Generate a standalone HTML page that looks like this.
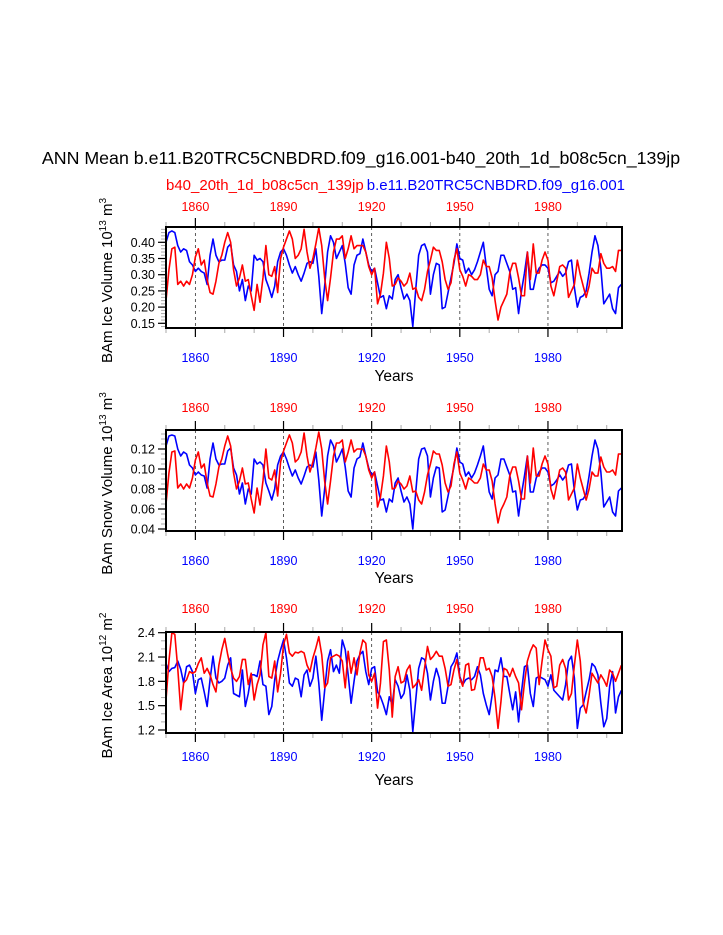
<!DOCTYPE html>
<html><head><meta charset="utf-8"><style>
html,body{margin:0;padding:0;background:#fff;}
svg{display:block;font-family:"Liberation Sans",Arial,sans-serif;}
</style></head><body>
<svg id="chart" width="723" height="935" viewBox="0 0 723 935" xmlns="http://www.w3.org/2000/svg">
<text x="361" y="164" font-size="17.8" text-anchor="middle">ANN Mean b.e11.B20TRC5CNBDRD.f09_g16.001-b40_20th_1d_b08c5cn_139jp</text>
<text x="166" y="190" font-size="15" fill="#f00">b40_20th_1d_b08c5cn_139jp</text>
<text x="625" y="190" font-size="15" fill="#00f" text-anchor="end">b.e11.B20TRC5CNBDRD.f09_g16.001</text>
<g id="plots"></g>
</svg>
<script>
const years = Array.from({length:156},(_, i)=>1850+i);
const xTicks = [1860,1890,1920,1950,1980];
const iceVolBlue = [0.40,0.43,0.435,0.43,0.39,0.37,0.38,0.375,0.34,0.33,0.31,0.32,0.31,0.305,0.27,0.36,0.41,0.36,0.34,0.345,0.345,0.385,0.395,0.33,0.31,0.25,0.285,0.22,0.265,0.25,0.36,0.345,0.35,0.34,0.285,0.26,0.23,0.265,0.34,0.37,0.38,0.36,0.33,0.305,0.325,0.30,0.28,0.305,0.335,0.34,0.335,0.38,0.295,0.18,0.265,0.37,0.42,0.40,0.35,0.37,0.39,0.335,0.26,0.24,0.33,0.36,0.365,0.41,0.37,0.33,0.31,0.32,0.275,0.23,0.235,0.195,0.235,0.225,0.285,0.30,0.26,0.225,0.24,0.22,0.14,0.255,0.36,0.39,0.395,0.37,0.24,0.30,0.335,0.33,0.195,0.20,0.245,0.29,0.335,0.395,0.35,0.345,0.305,0.32,0.30,0.315,0.34,0.37,0.40,0.325,0.255,0.235,0.30,0.31,0.36,0.36,0.335,0.31,0.255,0.26,0.18,0.25,0.305,0.37,0.255,0.255,0.30,0.32,0.33,0.33,0.32,0.275,0.28,0.295,0.31,0.295,0.305,0.34,0.345,0.26,0.20,0.23,0.235,0.25,0.305,0.37,0.42,0.39,0.32,0.21,0.225,0.24,0.195,0.18,0.26,0.27];
const iceVolRed = [0.22,0.315,0.38,0.385,0.27,0.28,0.265,0.28,0.27,0.30,0.355,0.38,0.33,0.345,0.285,0.245,0.24,0.28,0.335,0.36,0.40,0.43,0.40,0.315,0.265,0.29,0.33,0.28,0.285,0.235,0.19,0.27,0.215,0.29,0.39,0.30,0.295,0.325,0.245,0.35,0.385,0.41,0.435,0.41,0.35,0.36,0.38,0.44,0.37,0.32,0.35,0.395,0.445,0.39,0.29,0.22,0.29,0.37,0.41,0.41,0.42,0.35,0.38,0.42,0.38,0.39,0.39,0.39,0.37,0.325,0.30,0.32,0.21,0.24,0.305,0.40,0.35,0.265,0.27,0.29,0.28,0.265,0.275,0.305,0.255,0.26,0.23,0.22,0.255,0.31,0.345,0.385,0.375,0.375,0.34,0.285,0.255,0.275,0.345,0.38,0.315,0.295,0.265,0.30,0.295,0.285,0.285,0.30,0.345,0.325,0.325,0.29,0.22,0.16,0.20,0.22,0.24,0.305,0.335,0.335,0.29,0.235,0.235,0.37,0.285,0.395,0.305,0.305,0.345,0.37,0.345,0.265,0.235,0.28,0.325,0.33,0.32,0.23,0.25,0.27,0.345,0.30,0.265,0.23,0.265,0.32,0.305,0.305,0.365,0.335,0.32,0.32,0.325,0.31,0.375,0.375];
const snowVolBlue = [0.123,0.133,0.134,0.133,0.120,0.113,0.117,0.115,0.104,0.101,0.094,0.097,0.094,0.093,0.081,0.110,0.126,0.110,0.104,0.105,0.105,0.118,0.121,0.101,0.094,0.075,0.086,0.065,0.080,0.075,0.110,0.105,0.107,0.104,0.086,0.078,0.069,0.080,0.104,0.113,0.117,0.110,0.101,0.093,0.099,0.091,0.085,0.093,0.102,0.104,0.102,0.117,0.089,0.053,0.080,0.113,0.129,0.123,0.107,0.113,0.120,0.102,0.078,0.072,0.101,0.110,0.112,0.126,0.113,0.101,0.094,0.097,0.083,0.069,0.070,0.057,0.070,0.067,0.086,0.091,0.078,0.067,0.072,0.065,0.040,0.077,0.110,0.120,0.121,0.113,0.072,0.091,0.102,0.101,0.057,0.059,0.073,0.088,0.102,0.121,0.107,0.105,0.093,0.097,0.091,0.096,0.104,0.113,0.123,0.099,0.077,0.070,0.091,0.094,0.110,0.110,0.102,0.094,0.077,0.078,0.053,0.075,0.093,0.113,0.077,0.077,0.091,0.097,0.101,0.101,0.097,0.083,0.085,0.089,0.094,0.089,0.093,0.104,0.105,0.078,0.059,0.069,0.070,0.075,0.093,0.113,0.129,0.120,0.097,0.062,0.067,0.072,0.057,0.053,0.078,0.081];
const snowVolRed = [0.065,0.096,0.117,0.118,0.081,0.085,0.080,0.085,0.081,0.091,0.109,0.117,0.101,0.105,0.086,0.073,0.072,0.085,0.102,0.110,0.123,0.133,0.123,0.096,0.080,0.088,0.101,0.085,0.086,0.070,0.056,0.081,0.064,0.088,0.120,0.091,0.089,0.099,0.073,0.107,0.118,0.126,0.134,0.126,0.107,0.110,0.117,0.136,0.113,0.097,0.107,0.121,0.137,0.120,0.088,0.065,0.088,0.113,0.126,0.126,0.129,0.107,0.117,0.129,0.117,0.120,0.120,0.120,0.113,0.099,0.091,0.097,0.062,0.072,0.093,0.123,0.107,0.080,0.081,0.088,0.085,0.080,0.083,0.093,0.077,0.078,0.069,0.065,0.077,0.094,0.105,0.118,0.115,0.115,0.104,0.086,0.077,0.083,0.105,0.117,0.096,0.089,0.080,0.091,0.089,0.086,0.086,0.091,0.105,0.099,0.099,0.088,0.065,0.046,0.059,0.065,0.072,0.093,0.102,0.102,0.088,0.070,0.070,0.113,0.086,0.121,0.093,0.093,0.105,0.113,0.105,0.080,0.070,0.085,0.099,0.101,0.097,0.069,0.075,0.081,0.105,0.091,0.080,0.069,0.080,0.097,0.093,0.093,0.112,0.102,0.097,0.097,0.099,0.094,0.115,0.115];
const iceAreaBlue = [2.02,1.92,1.96,1.97,2.05,1.95,1.78,1.98,2.00,1.92,1.65,1.82,1.84,1.67,1.49,1.82,2.11,1.84,1.78,1.80,1.84,2.00,2.09,1.65,1.63,1.61,1.94,1.49,1.65,1.88,1.88,1.86,2.05,1.76,1.74,1.39,1.49,1.82,2.05,2.19,2.31,2.09,1.78,1.74,1.84,1.82,1.61,1.88,1.94,1.74,1.84,2.11,1.78,1.32,1.69,2.05,2.19,1.92,2.00,1.90,2.31,2.19,1.88,1.53,1.80,2.05,2.13,2.17,1.92,1.76,1.96,1.98,1.67,1.61,1.51,1.39,1.61,1.51,1.82,1.74,1.59,1.65,1.88,1.69,1.18,1.57,1.96,2.09,2.07,1.90,1.57,1.80,1.96,1.84,1.53,1.53,1.74,1.98,2.04,2.15,1.86,1.76,1.82,1.84,1.82,1.86,1.98,1.88,1.65,1.51,1.39,1.63,1.94,1.92,2.09,1.86,1.86,1.65,1.45,1.67,1.30,1.67,1.98,2.00,1.65,1.49,1.84,1.86,1.84,1.82,1.74,1.88,1.69,1.65,1.61,1.57,1.76,2.05,2.11,1.84,1.22,1.47,1.51,1.67,1.82,2.02,1.98,1.88,1.53,1.24,1.34,1.74,1.92,1.41,1.61,1.69];
const iceAreaRed = [1.57,2.05,2.40,2.38,1.96,1.45,1.78,1.82,1.92,1.90,1.92,2.02,2.09,1.90,1.96,1.88,1.76,1.67,2.00,2.19,2.33,2.13,1.96,1.84,1.80,1.86,2.07,2.07,1.76,1.90,1.57,1.76,1.88,2.25,2.40,1.86,1.84,2.05,1.67,1.90,2.25,2.38,2.15,2.11,2.16,2.15,2.17,2.15,2.00,1.92,2.09,2.21,2.35,2.13,1.72,1.78,2.09,2.11,2.13,2.11,2.05,1.72,2.17,1.90,2.09,1.88,2.15,2.31,2.27,1.88,1.80,1.90,1.47,1.78,2.29,2.31,1.94,1.36,1.86,1.98,1.78,1.80,1.94,2.00,1.72,1.76,1.82,1.69,1.96,2.23,2.07,2.11,2.17,2.11,2.11,1.96,1.74,1.76,1.94,2.07,1.84,1.74,2.00,2.02,1.69,1.70,1.88,2.09,2.09,1.94,1.96,1.86,1.59,1.22,1.55,1.96,1.94,1.86,1.96,1.86,1.78,1.45,1.78,2.05,2.17,2.25,2.21,1.76,2.05,2.31,2.19,2.11,1.72,1.74,2.00,2.07,1.96,1.57,1.65,2.00,2.31,2.05,1.53,1.41,1.63,1.90,1.84,1.78,1.88,1.82,1.74,1.94,1.90,1.80,1.90,2.00];
const iceVolTicks = ["0.15","0.20","0.25","0.30","0.35","0.40"];
const snowVolTicks = ["0.04","0.06","0.08","0.10","0.12"];
const iceAreaTicks = ["1.2","1.5","1.8","2.1","2.4"];

const NS="http://www.w3.org/2000/svg";
const root=document.getElementById('plots');
function mk(tag,attrs,parent){const e=document.createElementNS(NS,tag);for(const k in attrs)e.setAttribute(k,attrs[k]);(parent||root).appendChild(e);return e;}
const X0=166,X1=622,YR0=1850,YR1=2005.2;
const xs=y=>X0+(y-YR0)*(X1-X0)/(YR1-YR0);

const panels=[
 {name:'ice-volume',top:227,bot:328,y0:0.15,p0:323.3,y1:0.40,p1:242.3,minor:0.01,vmin:0.13,vmax:0.45,ticks:iceVolTicks,blue:iceVolBlue,red:iceVolRed,title:['BAm Ice Volume 10','13',' m','3'],topLab:211,botLab:362,years:381},
 {name:'snow-volume',top:430,bot:531,y0:0.04,p0:529,y1:0.12,p1:449,minor:0.005,vmin:0.035,vmax:0.14,ticks:snowVolTicks,blue:snowVolBlue,red:snowVolRed,title:['BAm Snow Volume 10','13',' m','3'],topLab:412,botLab:565,years:583},
 {name:'ice-area',top:632,bot:733,y0:1.2,p0:730,y1:2.4,p1:632.7,minor:0.1,vmin:1.1,vmax:2.45,ticks:iceAreaTicks,blue:iceAreaBlue,red:iceAreaRed,title:['BAm Ice Area 10','12',' m','2'],topLab:613,botLab:761,years:785}
];
panels.forEach(p=>{
 const g=mk('g',{});
 
 
 const ys=v=>p.p0+(v-p.y0)*(p.p1-p.p0)/(p.y1-p.y0);
 xTicks.forEach(t=>{const l=mk('line',{x1:xs(t),x2:xs(t),y1:p.top,y2:p.bot,stroke:'#333','stroke-width':0.8,'stroke-dasharray':'3,3'},g);
  
  });
 [['blue','#0000ff'],['red','#ff0000']].forEach(([k,c])=>{
  const d=p[k].map((v,i)=>(i?'L':'M')+xs(years[i]).toFixed(2)+','+ys(v).toFixed(2)).join('');
  const path=mk('path',{d:d,fill:'none',stroke:c,'stroke-width':1.6,'stroke-linejoin':'round'},g);
  
  
 });
 const fr=mk('rect',{x:X0,y:p.top,width:X1-X0,height:p.bot-p.top,fill:'none',stroke:'#000','stroke-width':2},g);
 
 
 for(let yr=1850;yr<=2000;yr+=10){
  const major=xTicks.includes(yr);const len=major?8:4;
  mk('line',{x1:xs(yr),x2:xs(yr),y1:p.top-1,y2:p.top-1-len,stroke:major?'#000':'#aaa','stroke-width':major?1.2:1},g);
  mk('line',{x1:xs(yr),x2:xs(yr),y1:p.bot+1,y2:p.bot+1+len,stroke:major?'#000':'#aaa','stroke-width':major?1.2:1},g);
 }
 xTicks.forEach(t=>{
  const a=mk('text',{x:xs(t),y:p.topLab,'font-size':12.5,fill:'#f00','text-anchor':'middle'},g);a.textContent=t;
  
  
  const b=mk('text',{x:xs(t),y:p.botLab,'font-size':12.5,fill:'#00f','text-anchor':'middle'},g);b.textContent=t;
  
  
 });
 const n=Math.round((p.vmax-p.vmin)/p.minor);
 for(let k=0;k<=n;k++){const v=p.vmin+k*p.minor;const y=ys(v);if(y<p.top||y>p.bot)continue;
  mk('line',{x1:X0-1,x2:X0-5,y1:y,y2:y,stroke:'#aaa','stroke-width':1},g);}
 p.ticks.forEach(t=>{const y=ys(parseFloat(t));
  mk('line',{x1:X0-1,x2:X0-8,y1:y,y2:y,stroke:'#000','stroke-width':1.2},g);
  const tx=mk('text',{x:X0-11,y:y+4.5,'font-size':12.5,'text-anchor':'end'},g);tx.textContent=t;
  
  
 });
 const yt=mk('text',{x:0,y:0,'font-size':15,'text-anchor':'middle',transform:`translate(112,${(p.top+p.bot)/2+3}) rotate(-90)`},g);
 
 
 const [a,b,c,d]=p.title;
 yt.appendChild(document.createTextNode(a));
 const s1=mk('tspan',{'font-size':10,dy:-6},yt);s1.textContent=b;
 const s2=mk('tspan',{dy:6},yt);s2.textContent=c;
 const s3=mk('tspan',{'font-size':10,dy:-6},yt);s3.textContent=d;
 const xt=mk('text',{x:394,y:p.years,'font-size':15.5,'text-anchor':'middle'},g);xt.textContent='Years';
 
 
});
</script>
</body></html>
